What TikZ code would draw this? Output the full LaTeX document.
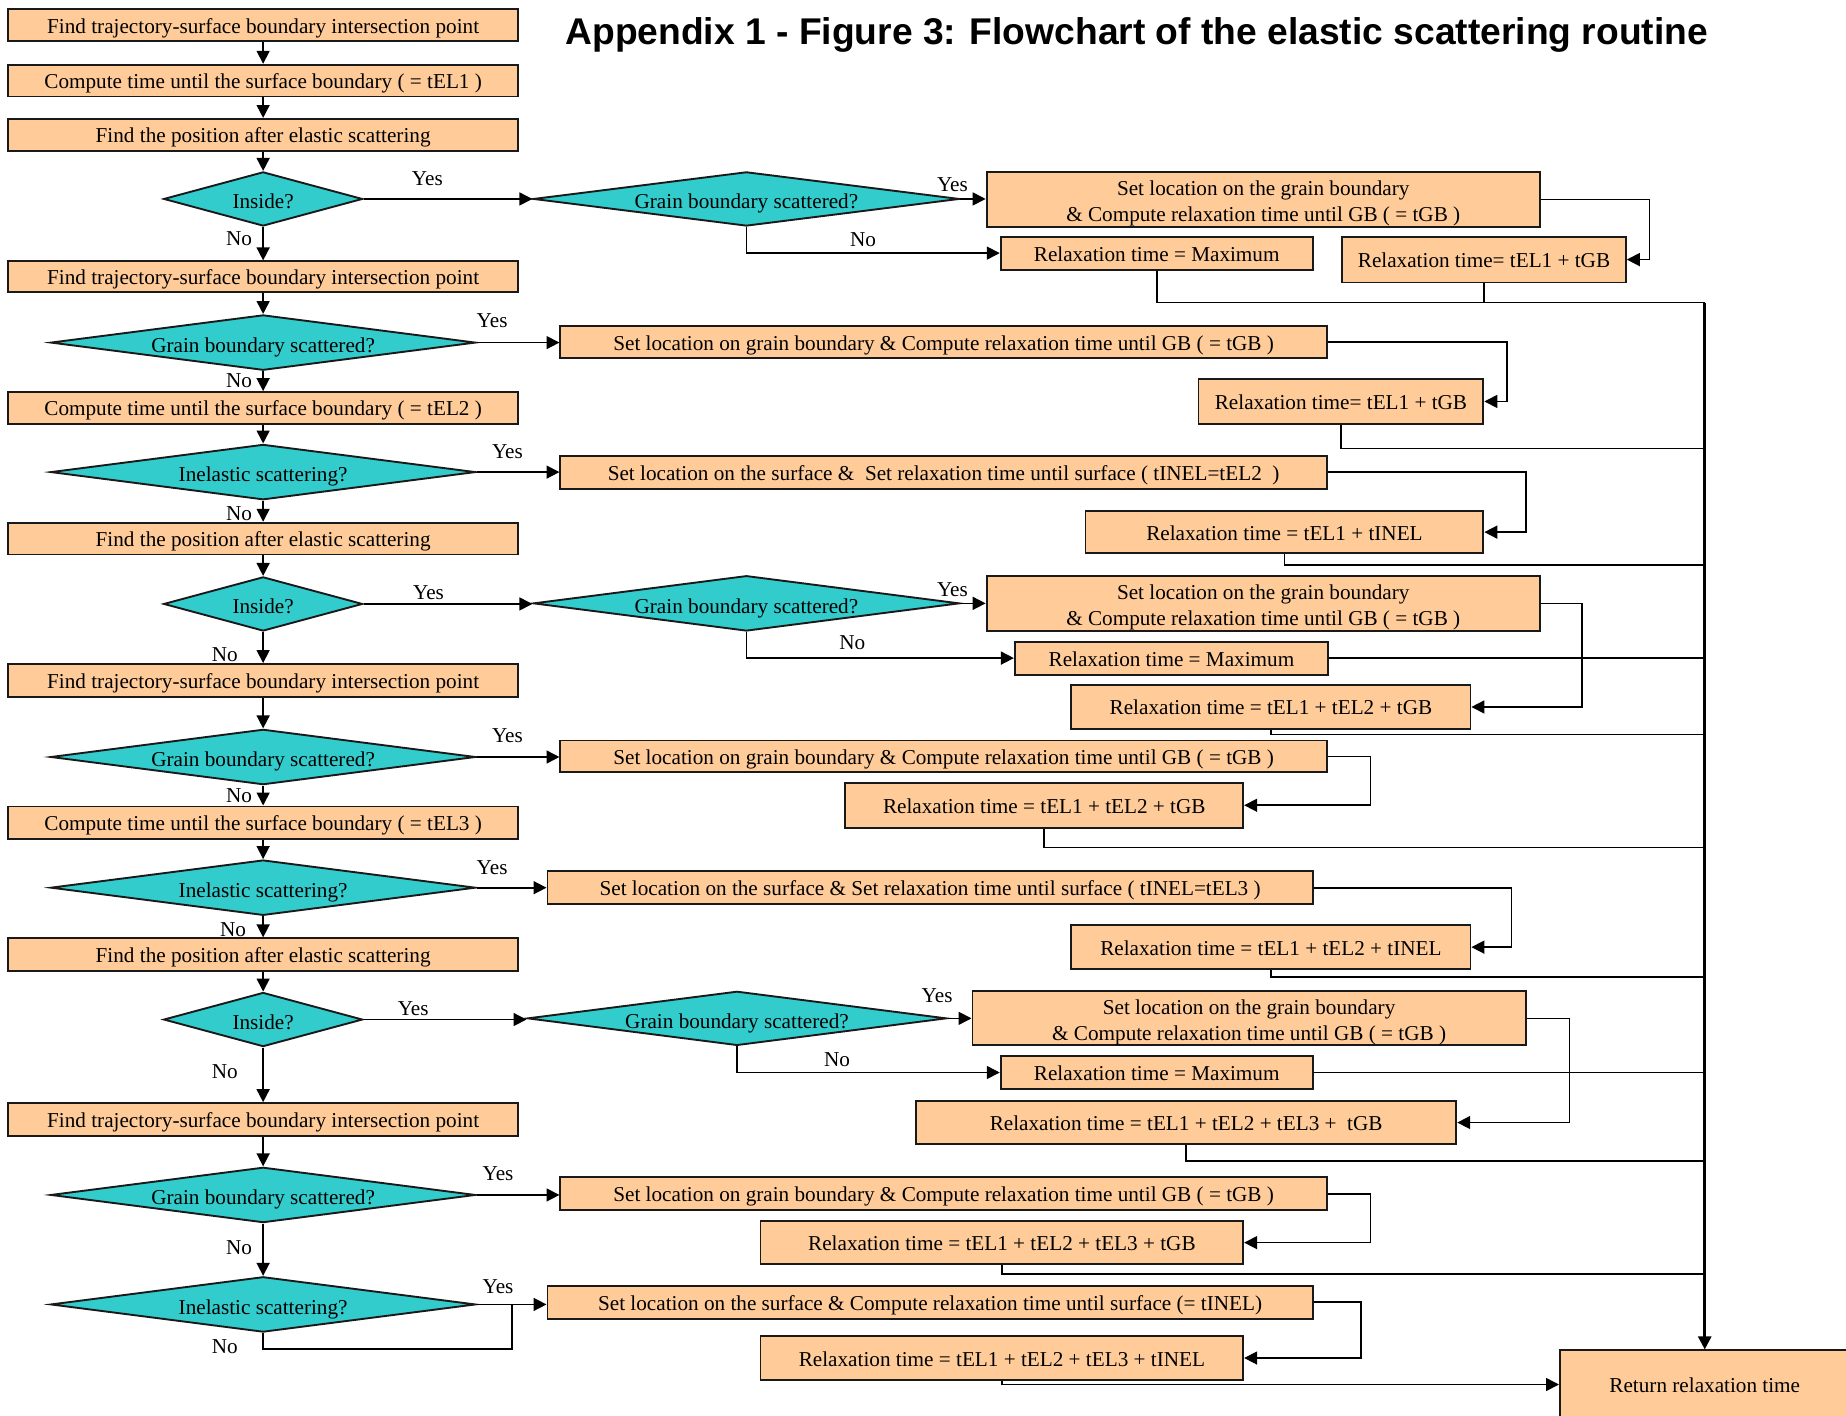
\documentclass[tikz,border=0pt]{standalone}
\usepackage{fontspec}
\setmainfont{Liberation Serif}
\newfontfamily\titlefont{Liberation Sans}
\usetikzlibrary{shapes.geometric,arrows.meta,calc}
\definecolor{peach}{HTML}{FFCC99}
\definecolor{tealx}{HTML}{33CCCC}
\newcommand\mybox[6]{\node[box, minimum width={(#4-#2)*0.5pt}, minimum height={(#5-#3)*0.5pt}] (#1) at ({(#2+#4)/2},{(#3+#5)/2}) {#6};}
\newcommand\mytwobox[6]{\node[box2, minimum width={(#4-#2)*0.5pt}, minimum height={(#5-#3)*0.5pt}] (#1) at ({(#2+#4)/2},{(#3+#5)/2}) {#6};}
\newcommand\dtxt[1]{\raisebox{-2pt}[6.3pt][2pt]{#1}}
\begin{document}
\begin{tikzpicture}[x=0.5pt,y=-0.5pt,
  box2/.style={draw=black!90, line width=0.8pt, fill=peach, inner sep=0pt, font=\fontsize{9}{11}\selectfont, align=center},
  box/.style={box2, text height=8.8pt, text depth=2pt},
  dia/.style={draw=black!90, line width=0.8pt, fill=tealx, shape=diamond, inner sep=0pt, font=\fontsize{9}{11}\selectfont},
  gbw/.style={minimum width=180.5pt, minimum height=23.5pt, aspect=7.68},
  inw/.style={minimum width=84.5pt, minimum height=23pt, aspect=3.67},
  lbl/.style={font=\fontsize{9}{11}\selectfont, inner sep=0pt},
  ln/.style={draw, line width=0.7pt},
  arr/.style={ln, -{Triangle[length=5.5pt,width=5.5pt]}},
  trunk/.style={line width=1.1pt}]
\fill[white] (0,0) rectangle (1568,1202);
\useasboundingbox (0,0) rectangle (1568,1202);

\node[font=\titlefont\bfseries\fontsize{15.8}{19}\selectfont, inner sep=0pt] (title) at (965.5,30) {Appendix 1 - Figure 3: Flowchart of the elastic scattering routine};

% left column
\mybox{b1}{7}{8}{440}{35}{Find trajectory-surface boundary intersection point}
\mybox{b2}{7}{55}{440}{82}{Compute time until the surface boundary ( = tEL1 )}
\mybox{b3}{7}{101}{440}{128}{Find the position after elastic scattering}
\node[dia, inw] (d1) at (223.5,169) {\dtxt{Inside?}};
\mybox{b4}{7}{222}{440}{248}{Find trajectory-surface boundary intersection point}
\node[dia, gbw] (d2) at (223.5,291) {\dtxt{Grain boundary scattered?}};
\mybox{b5}{7}{333}{440}{360}{Compute time until the surface boundary ( = tEL2 )}
\node[dia, gbw] (d3) at (223.5,401) {\dtxt{Inelastic scattering?}};
\mybox{b6}{7}{444}{440}{471}{Find the position after elastic scattering}
\node[dia, inw] (d4) at (223.5,513) {\dtxt{Inside?}};
\mybox{b7}{7}{564}{440}{592}{Find trajectory-surface boundary intersection point}
\node[dia, gbw] (d5) at (223.5,643) {\dtxt{Grain boundary scattered?}};
\mybox{b8}{7}{685}{440}{713}{Compute time until the surface boundary ( = tEL3 )}
\node[dia, gbw] (d6) at (223.5,754) {\dtxt{Inelastic scattering?}};
\mybox{b9}{7}{797}{440}{825}{Find the position after elastic scattering}
\node[dia, inw] (d7) at (223.5,866) {\dtxt{Inside?}};
\mybox{b10}{7}{937}{440}{965}{Find trajectory-surface boundary intersection point}
\node[dia, gbw] (d8) at (223.5,1015) {\dtxt{Grain boundary scattered?}};
\node[dia, gbw] (d9) at (223.5,1108) {\dtxt{Inelastic scattering?}};

% right side
\node[dia, minimum width=181pt, minimum height=23pt, aspect=7.87] (gA) at (634,169) {\dtxt{Grain boundary scattered?}};
\mytwobox{sA}{838}{146}{1308}{193}{\rule{0pt}{9.3pt}Set location on the grain boundary\\\& Compute relaxation time until GB ( = tGB )}
\mybox{mA}{850}{201}{1115}{229}{Relaxation time = Maximum}
\mybox{rA}{1140}{201}{1381}{240}{Relaxation time= tEL1 + tGB}

\mybox{sB}{476}{277}{1127}{304}{Set location on grain boundary \& Compute relaxation time until GB ( = tGB )}
\mybox{rB}{1018}{322}{1260}{360}{Relaxation time= tEL1 + tGB}
\mybox{sC}{476}{387}{1127}{415}{Set location on the surface \&~ Set relaxation time until surface ( tINEL=tEL2~ )}
\mybox{rC}{922}{434}{1260}{470}{Relaxation time = tEL1 + tINEL}

\node[dia, minimum width=181pt, minimum height=23.5pt, aspect=7.7] (gB) at (634,512.5) {\dtxt{Grain boundary scattered?}};
\mytwobox{sD}{838}{489}{1308}{536}{\rule{0pt}{9.3pt}Set location on the grain boundary\\\& Compute relaxation time until GB ( = tGB )}
\mybox{mB}{862}{545}{1128}{573}{Relaxation time = Maximum}
\mybox{rD}{910}{582}{1249}{619}{Relaxation time = tEL1 + tEL2 + tGB}

\mybox{sE}{476}{629}{1127}{656}{Set location on grain boundary \& Compute relaxation time until GB ( = tGB )}
\mybox{rE}{718}{665}{1056}{703}{Relaxation time = tEL1 + tEL2 + tGB}

\mybox{sF}{465}{740}{1115}{768}{Set location on the surface \& Set relaxation time until surface ( tINEL=tEL3 )}
\mybox{rF}{910}{786}{1249}{823}{Relaxation time = tEL1 + tEL2 + tINEL}

\node[dia, minimum width=178pt, minimum height=23pt, aspect=7.74] (gC) at (626,865) {\dtxt{Grain boundary scattered?}};
\mytwobox{sG}{826}{842}{1296}{888}{\rule{0pt}{9.3pt}Set location on the grain boundary\\\& Compute relaxation time until GB ( = tGB )}
\mybox{mC}{850}{897}{1115}{925}{Relaxation time = Maximum}
\mybox{rG}{778}{935}{1237}{972}{Relaxation time = tEL1 + tEL2 + tEL3 +~ tGB}

\mybox{sH}{476}{1000}{1127}{1028}{Set location on grain boundary \& Compute relaxation time until GB ( = tGB )}
\mybox{rH}{646}{1037}{1056}{1074}{Relaxation time = tEL1 + tEL2 + tEL3 + tGB}
\mybox{sI}{465}{1092}{1115}{1120}{Set location on the surface \& Compute relaxation time until surface (= tINEL)}
\mybox{rI}{646}{1135}{1056}{1172}{Relaxation time = tEL1 + tEL2 + tEL3 + tINEL}
\mybox{ret}{1325}{1147}{1571}{1205}{Return relaxation time}

% bend and join coordinates
\coordinate (kA) at (1401,0);
\coordinate (kB) at (1280,0);
\coordinate (kC) at (1296,0);
\coordinate (kD) at (1344,0);
\coordinate (kE) at (1164,0);
\coordinate (kF) at (1284,0);
\coordinate (kG) at (1333,0);
\coordinate (kH) at (1164,0);
\coordinate (kI) at (1156,0);
\coordinate (T) at (1448,257);
\coordinate (jB) at (1448,381);
\coordinate (jC) at (1448,480);
\coordinate (jD) at (1448,624);
\coordinate (jE) at (1448,720);
\coordinate (jF) at (1448,830);
\coordinate (jG) at (1448,986);
\coordinate (jH) at (1448,1082);
\coordinate (kL) at (435,1146);

% left column flow
\draw[arr] (b1.south) -- (b2.north);
\draw[arr] (b2.south) -- (b3.north);
\draw[arr] (b3.south) -- (d1.north);
\draw[arr] (d1.south) -- (b4.north);
\draw[arr] (b4.south) -- (d2.north);
\draw[arr] (d2.south) -- (b5.north);
\draw[arr] (b5.south) -- (d3.north);
\draw[arr] (d3.south) -- (b6.north);
\draw[arr] (b6.south) -- (d4.north);
\draw[arr] (d4.south) -- (b7.north);
\draw[arr] (b7.south) -- (d5.north);
\draw[arr] (d5.south) -- (b8.north);
\draw[arr] (b8.south) -- (d6.north);
\draw[arr] (d6.south) -- (b9.north);
\draw[arr] (b9.south) -- (d7.north);
\draw[arr] (d7.south) -- (b10.north);
\draw[arr] (b10.south) -- (d8.north);
\draw[arr] (d8.south) -- (d9.north);
\draw[ln] (d9.south) |- (kL) -- (kL |- d9.east);

% yes arrows
\draw[arr] (d1.east) -- (d1.east -| gA.west);
\draw[arr] (d2.east) -- (d2.east -| sB.west);
\draw[arr] (d3.east) -- (d3.east -| sC.west);
\draw[arr] (d4.east) -- (d4.east -| gB.west);
\draw[arr] (d5.east) -- (d5.east -| sE.west);
\draw[arr] (d6.east) -- (d6.east -| sF.west);
\draw[arr] (d7.east) -- (d7.east -| gC.west);
\draw[arr] (d8.east) -- (d8.east -| sH.west);
\draw[arr] (d9.east) -- (d9.east -| sI.west);

% right side
\draw[arr] (gA.east) -- (gA.east -| sA.west);
\draw[arr] (gA.south) |- (mA.west);
\draw[arr] (sA.east) -| (kA |- rA.east) -- (rA.east);
\draw[arr] (sB.east) -| (kB |- rB.east) -- (rB.east);
\draw[arr] (sC.east) -| (kC |- rC.east) -- (rC.east);
\draw[arr] (gB.east) -- (gB.east -| sD.west);
\draw[arr] (gB.south) |- (mB.west);
\draw[arr] (sD.east) -| (kD |- rD.east) -- (rD.east);
\draw[arr] (sE.east) -| (kE |- rE.east) -- (rE.east);
\draw[arr] (sF.east) -| (kF |- rF.east) -- (rF.east);
\draw[arr] (gC.east) -- (gC.east -| sG.west);
\draw[arr] (gC.south) |- (mC.west);
\draw[arr] (sG.east) -| (kG |- rG.east) -- (rG.east);
\draw[arr] (sH.east) -| (kH |- rH.east) -- (rH.east);
\draw[arr] (sI.east) -| (kI |- rI.east) -- (rI.east);

% collection lines
\draw[ln] (mA.south) |- (T);
\draw[ln] (rA.south) |- (T);
\draw[ln] (rB.south) |- (jB);
\draw[ln] (rC.south) |- (jC);
\draw[ln] (mB.east) -- (mB.east -| T);
\draw[ln] (rD.south) |- (jD);
\draw[ln] (rE.south) |- (jE);
\draw[ln] (rF.south) |- (jF);
\draw[ln] (mC.east) -- (mC.east -| T);
\draw[ln] (rG.south) |- (jG);
\draw[ln] (rH.south) |- (jH);
\draw[arr, trunk] (T) -- (T |- ret.north);
\draw[arr] (rI.south) |- (ret.west);

% labels
\node[lbl] (y1) at (363,152) {Yes};
\node[lbl] (n1) at (203,203) {No};
\node[lbl] (yA) at (809,157) {Yes};
\node[lbl] (nA) at (733,204) {No};
\node[lbl] (y2) at (418,272) {Yes};
\node[lbl] (n2) at (203,323) {No};
\node[lbl] (y3) at (431,384) {Yes};
\node[lbl] (n3) at (203,436) {No};
\node[lbl] (y4) at (364,503) {Yes};
\node[lbl] (n4) at (191,556) {No};
\node[lbl] (yB) at (809,501) {Yes};
\node[lbl] (nB) at (724,546) {No};
\node[lbl] (y5) at (431,625) {Yes};
\node[lbl] (n5) at (203,676) {No};
\node[lbl] (y6) at (418,737) {Yes};
\node[lbl] (n6) at (198,790) {No};
\node[lbl] (y7) at (351,857) {Yes};
\node[lbl] (n7) at (191,910) {No};
\node[lbl] (yC) at (796,846) {Yes};
\node[lbl] (nC) at (711,900) {No};
\node[lbl] (y8) at (423,997) {Yes};
\node[lbl] (n8) at (203,1060) {No};
\node[lbl] (y9) at (423,1093) {Yes};
\node[lbl] (n9) at (191,1144) {No};
\end{tikzpicture}
\end{document}
